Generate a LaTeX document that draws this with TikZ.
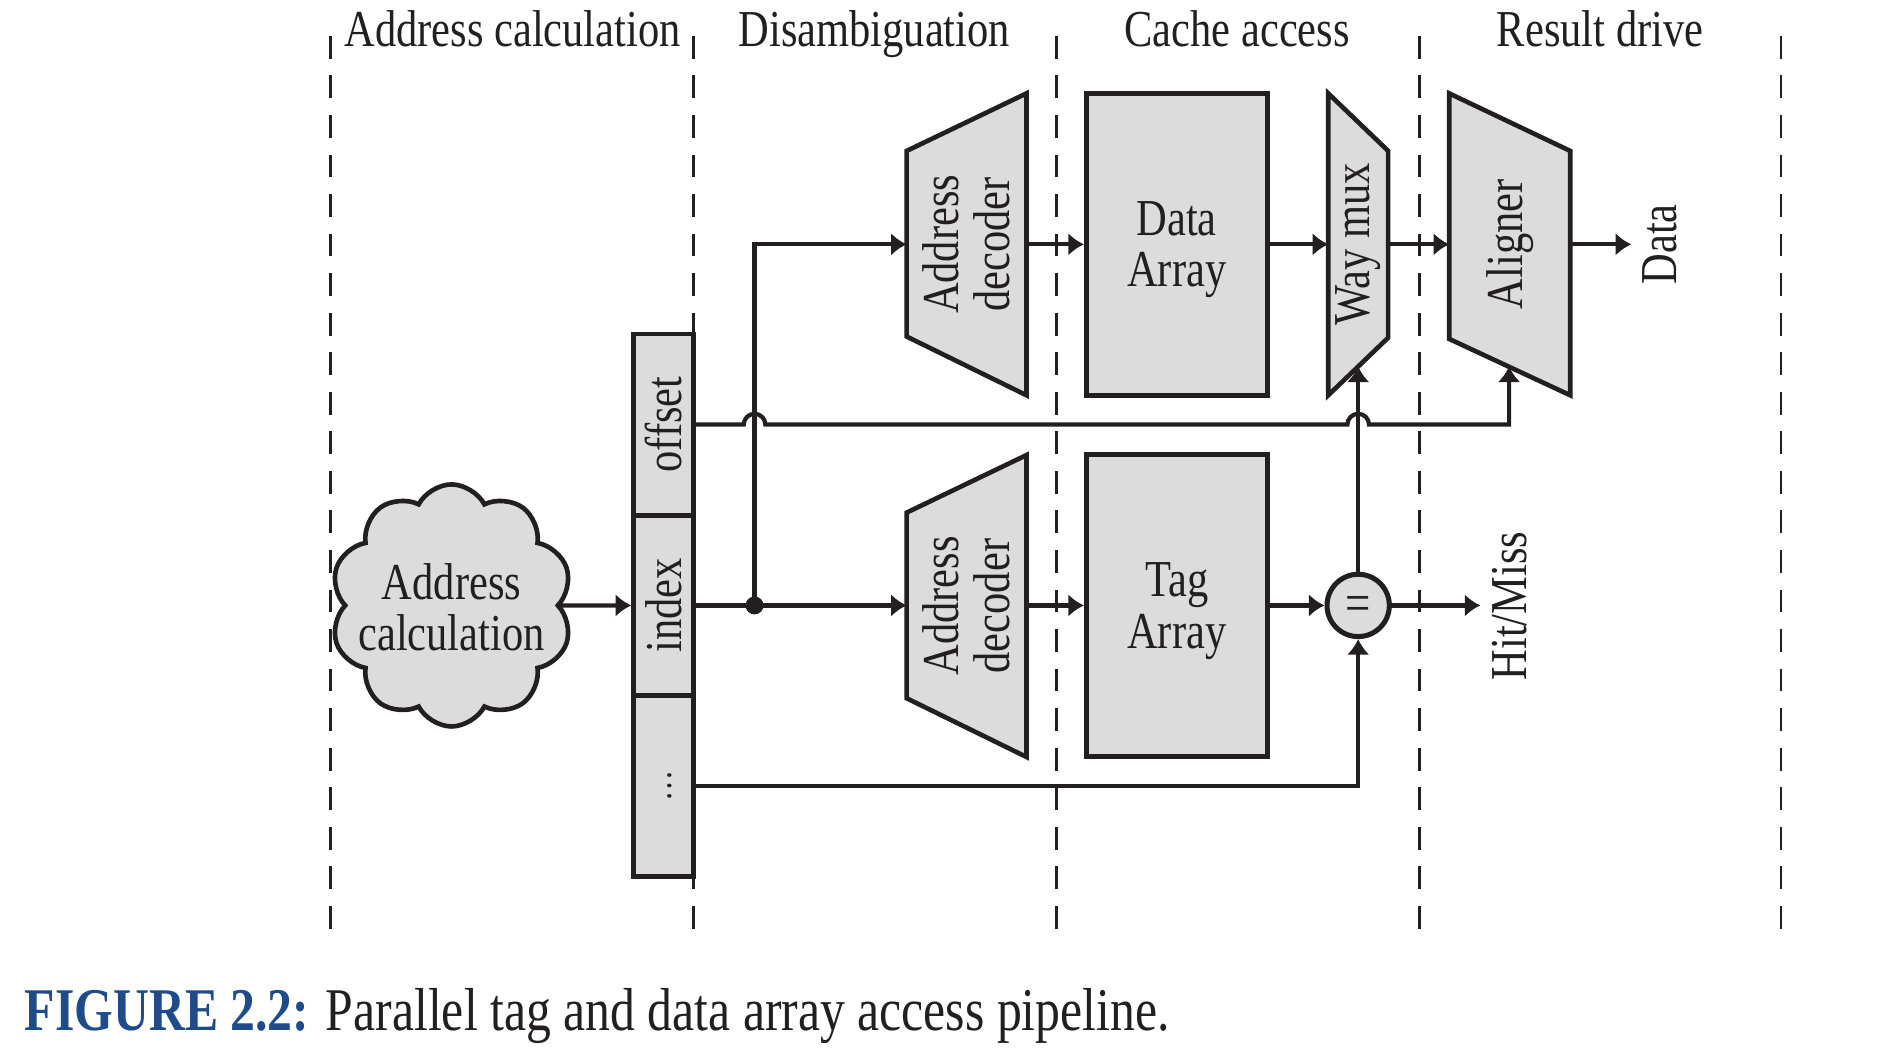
\documentclass[tikz,border=0pt]{standalone}
\usepackage{fontspec}
\setmainfont{Liberation Serif}[FakeStretch=0.82]
\usetikzlibrary{shapes.symbols,arrows.meta}
\definecolor{fillg}{RGB}{220,220,223}
\definecolor{ink}{RGB}{35,31,32}
\definecolor{capblue}{RGB}{32,75,138}
\begin{document}
\begin{tikzpicture}[x=0.01cm,y=-0.01cm,
  every node/.style={font=\fontsize{12.3}{12.2}\selectfont, text=ink},
  blk/.style={draw=ink, line width=1.1pt, fill=fillg},
  wire/.style={draw=ink, line width=1.0pt},
  arr/.style={wire, -{Latex[length=1.3mm,width=1.9mm]}},
  sep/.style={draw=ink, line width=0.6pt, dash pattern=on 0.19cm off 0.14cm},
  lab/.style={align=center, inner sep=0pt},
  vlab/.style={lab, rotate=90},
]
\useasboundingbox (0,0) rectangle (1568,879);
% stage separators
\foreach \x in {276,579,882,1185,1487} \draw[sep] (\x,30) -- (\x,783);
% headers
\node[anchor=base] (h1) at (428,39) {Address calculation};
\node[anchor=base] (h2) at (730,39) {Disambiguation};
\node[anchor=base] (h3) at (1033,39) {Cache access};
\node[anchor=base] (h4) at (1336,39) {Result drive};
% address register
\node[blk, minimum width=0.5cm, minimum height=1.51cm, inner sep=0] (off) at (554,354.5) {\rotatebox{90}{offset}};
\node[blk, minimum width=0.5cm, minimum height=1.50cm, inner sep=0] (idx) at (554,505.5) {\rotatebox{90}{index}};
\node[blk, minimum width=0.5cm, minimum height=1.51cm, inner sep=0] (dd) at (554,656.5) {\rotatebox{90}{\fontsize{9}{9}\selectfont\strut …}};
% cloud
\node[blk, cloud, cloud puffs=10, cloud puff arc=125, aspect=1, minimum width=2.02cm, minimum height=2.02cm, inner sep=0] (cl) at (377,505.5) {};
\node[lab] (clt) at (377,507) {Address\\calculation};
% decoders
\draw[blk] (757,126) -- (857,78) -- (857,330) -- (757,281) -- cycle;
\node[vlab] (d1) at (807,204) {Address\\decoder};
\draw[blk] (757,428) -- (857,380) -- (857,632) -- (757,583) -- cycle;
\node[vlab] (d2) at (807,506) {Address\\decoder};
\coordinate (d1in) at (757,204); \coordinate (d1out) at (857,204);
\coordinate (d2in) at (757,505.5); \coordinate (d2out) at (857,505.5);
% arrays
\node[blk, lab, text depth=0pt, minimum width=1.51cm, minimum height=2.52cm] (da) at (982.5,204) {Data\\Array};
\node[blk, lab, text depth=0pt, minimum width=1.51cm, minimum height=2.52cm] (ta) at (982.5,505.5) {Tag\\Array};
% way mux
\draw[blk] (1109,78) -- (1159,126) -- (1159,282) -- (1109,330) -- cycle;
\node[vlab] (wm) at (1134,204) {Way mux};
\coordinate (wmin) at (1109,204); \coordinate (wmout) at (1159,204); \coordinate (muxb) at (1134,306);
% aligner
\draw[blk] (1210,78) -- (1311,126) -- (1311,330) -- (1210,283) -- cycle;
\node[vlab] (al) at (1261,204) {Aligner};
\coordinate (alin) at (1210,204); \coordinate (alout) at (1311,204); \coordinate (alb) at (1260,306);
% comparator
\node[blk, circle, minimum size=0.52cm, inner sep=0, line width=1.2pt, text height=7.6pt, text depth=0pt, font=\fontsize{13}{13}\selectfont] (eq) at (1134,505.5) {=};
% outputs
\coordinate (dend) at (1362,204);
\node[vlab] (dl) at (1386,204) {Data};
\coordinate (hm) at (1236,505.5);
\node[vlab] (hml) at (1260,506) {Hit/Miss};
% wires
\coordinate (j) at (630,505.5);
\draw[arr] (cl.east) -- (idx.west);
\draw[arr] (idx.east) -- (d2in);
\draw[arr] (j) |- (d1in);
\fill[ink] (j) circle[radius=0.075cm];
\draw[arr] (off.east) -- (621,354.5) arc[start angle=180,end angle=0,radius=0.09cm]
  -- (1125,354.5) arc[start angle=180,end angle=0,radius=0.09cm] -- (1260,354.5) -- (alb);
\draw[arr] (d1out) -- (da.west);
\draw[arr] (da.east) -- (wmin);
\draw[arr] (wmout) -- (alin);
\draw[arr] (alout) -- (dend);
\draw[arr] (d2out) -- (ta.west);
\draw[arr] (ta.east) -- (eq.west);
\draw[arr] (eq.east) -- (hm);
\draw[arr] (eq.north) -- (muxb);
\draw[arr] (dd.east) -| (eq.south);
% caption
\node[anchor=base west, inner sep=0, font=\fontsize{14.4}{16}\selectfont] (cap) at (20,860) {\textcolor{capblue}{\textbf{FIGURE 2.2:}} Parallel tag and data array access pipeline.};
\end{tikzpicture}
\end{document}
